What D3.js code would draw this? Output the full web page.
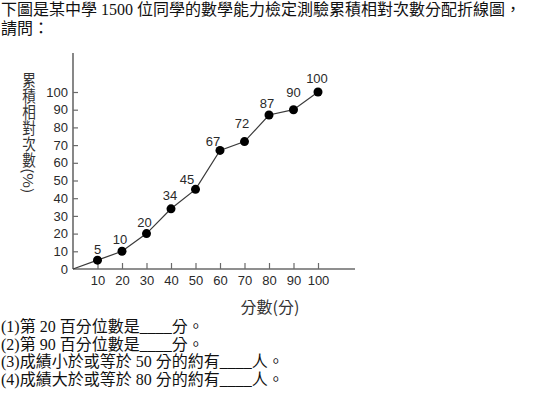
<!DOCTYPE html>
<html><head><meta charset="utf-8">
<script src="https://cdn.jsdelivr.net/npm/d3@7"></script>
<style>
html,body{margin:0;padding:0;background:#fff;}
svg{display:block;}
</style></head>
<body>
<svg id="c" width="550" height="416"></svg>
<script>
// ---- data ----
const scores = [0, 10, 20, 30, 40, 50, 60, 70, 80, 90, 100];
const cumPct = [0, 5, 10, 20, 34, 45, 67, 72, 87, 90, 100];
const xTicks = [10, 20, 30, 40, 50, 60, 70, 80, 90, 100];
const yTicks = [0, 10, 20, 30, 40, 50, 60, 70, 80, 90, 100];
const introLines = ["下圖是某中學 1500 位同學的數學能力檢定測驗累積相對次數分配折線圖，", "請問："];
const questions = [
  "(1)第 20 百分位數是____分。",
  "(2)第 90 百分位數是____分。",
  "(3)成績小於或等於 50 分的約有____人。",
  "(4)成績大於或等於 80 分的約有____人。"
];
const yTitle = "累積相對次數(%)";
const xTitle = "分數(分)";
// label nudges (style only), per plotted point (scores 10..100)
const labelDx = [0, -2, -2, -1, -8.5, -7, -2.5, -2, 0, -1];
const labelDy = [-11, -12, -11, -13, -10, -9, -18, -12, -17.5, -14];

// ---- drawing ----
const svg = d3.select("#c");
const serif = "'Liberation Serif','Times New Roman','Noto Sans CJK TC',serif";
const sans = "'Liberation Sans','Noto Sans CJK TC',sans-serif";
const cjk = "'Noto Sans CJK TC',sans-serif";

const x = d3.scaleLinear().domain([0, 100]).range([73, 318]);
const y = d3.scaleLinear().domain([0, 100]).range([269, 92]);

// intro text
svg.selectAll("text.intro").data(introLines).join("text")
  .attr("class", "intro")
  .attr("x", 1).attr("y", (d, i) => 15 + i * 18.5)
  .attr("font-family", serif).attr("font-size", 16).attr("fill", "#111")
  .text(d => d);

// questions
svg.selectAll("text.q").data(questions).join("text")
  .attr("class", "q")
  .attr("x", 1).attr("y", (d, i) => 332 + i * 17.5)
  .attr("font-family", serif).attr("font-size", 16).attr("fill", "#111")
  .text(d => d);

// axes
const axisColor = "#6a6a6a";
const gy = svg.append("g").attr("transform", `translate(${x(0)},0)`)
  .call(d3.axisLeft(y).tickValues(yTicks).tickSize(-5).tickPadding(5).tickFormat(d3.format("d")));
const gx = svg.append("g").attr("transform", `translate(0,${y(0)})`)
  .call(d3.axisBottom(x).tickValues(xTicks).tickSize(-6).tickPadding(7).tickFormat(d3.format("d")));
[gx, gy].forEach(g => {
  g.select(".domain").remove();
  g.selectAll(".tick line").attr("stroke", axisColor).attr("stroke-width", 1.2);
  g.selectAll(".tick text").attr("font-family", sans).attr("font-size", 13).attr("fill", "#2a2a2a");
});
gy.selectAll(".tick").filter(d => d === 0).select("line").remove();

svg.append("line").attr("x1", x(0)).attr("x2", x(0)).attr("y1", 53).attr("y2", y(0))
  .attr("stroke", axisColor).attr("stroke-width", 1.6);
svg.append("line").attr("x1", x(0)).attr("x2", 355).attr("y1", y(0)).attr("y2", y(0))
  .attr("stroke", axisColor).attr("stroke-width", 1.6);

// y title (vertical writing)
svg.append("text")
  .attr("transform", "translate(29,72) scale(0.85,1)")
  .attr("x", 0).attr("y", 0)
  .style("writing-mode", "vertical-rl")
  .attr("font-family", cjk).attr("font-size", 16).attr("fill", "#333")
  .text(yTitle);

// x title
svg.append("text").attr("x", 270).attr("y", 313)
  .attr("text-anchor", "middle")
  .attr("font-family", cjk).attr("font-size", 16).attr("fill", "#333")
  .text(xTitle);

// line
const pts = scores.map((s, i) => [s, cumPct[i]]);
svg.append("path").datum(pts)
  .attr("d", d3.line().x(d => x(d[0])).y(d => y(d[1])))
  .attr("fill", "none").attr("stroke", "#3a3a3a").attr("stroke-width", 1.2);

const marked = pts.slice(1);
svg.selectAll("circle.dot").data(marked).join("circle")
  .attr("class", "dot")
  .attr("cx", d => x(d[0])).attr("cy", d => y(d[1])).attr("r", 4.5)
  .attr("fill", "#000");

svg.selectAll("text.lbl").data(marked).join("text")
  .attr("class", "lbl")
  .attr("x", (d, i) => x(d[0]) + labelDx[i])
  .attr("y", (d, i) => y(d[1]) + labelDy[i])
  .attr("dy", "0.35em").attr("text-anchor", "middle")
  .attr("font-family", sans).attr("font-size", 13).attr("fill", "#2a2a2a")
  .text(d => d[1]);
</script>
</body></html>
